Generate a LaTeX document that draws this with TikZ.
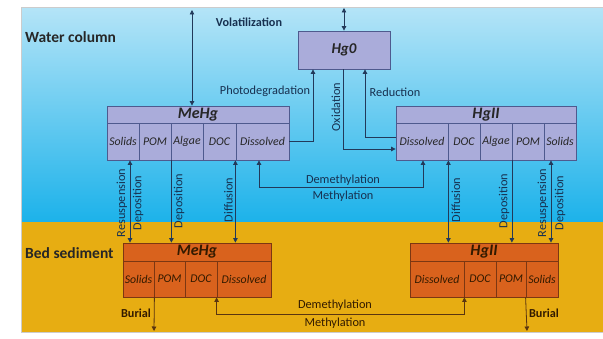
\documentclass[tikz,border=0pt]{standalone}
\usepackage{fontspec}
\setmainfont{Carlito}
\usetikzlibrary{arrows.meta,calc}
\definecolor{wtop}{HTML}{B4E4F7}
\definecolor{wbot}{HTML}{1CB2EA}
\definecolor{sed}{HTML}{E7AD12}
\definecolor{wbox}{HTML}{AAACDA}
\definecolor{wline}{HTML}{4E5A8E}
\definecolor{sbox}{HTML}{D9621D}
\definecolor{sline}{HTML}{7C3712}
\definecolor{wtext}{HTML}{173050}
\definecolor{stext}{HTML}{321A00}
\definecolor{conn}{HTML}{22395A}
\definecolor{sconn}{HTML}{5A3510}
\tikzset{
  >={Triangle[width=4.5pt,length=4.5pt]},
  wcell/.style={draw=wline, fill=wbox, line width=0.8pt, minimum height=37pt, inner sep=0pt,
    font=\fontsize{11.8}{13}\selectfont\itshape, text=black!85},
  whead/.style={wcell, minimum height=17pt, font=\fontsize{16}{18}\selectfont\bfseries\itshape},
  scell/.style={draw=sline, fill=sbox, line width=0.8pt, minimum height=36pt, inner sep=0pt,
    font=\fontsize{11.8}{13}\selectfont\itshape, text=stext},
  shead/.style={scell, minimum height=18pt, font=\fontsize{16}{18}\selectfont\bfseries\itshape},
  wlab/.style={text=wtext, font=\fontsize{12.3}{13}\selectfont, inner sep=0pt},
  slab/.style={text=stext, font=\fontsize{12.3}{13}\selectfont, inner sep=0pt},
  bigl/.style={text=black!85, font=\fontsize{15.5}{17}\selectfont\bfseries, inner sep=0pt, anchor=west},
  wconn/.style={draw=conn, line width=0.8pt},
  sconnl/.style={draw=sconn, line width=0.8pt},
}
\begin{document}
\begin{tikzpicture}[x=1pt,y=-1pt]
\useasboundingbox (0,0) rectangle (603,339);
% background
\fill[top color=wtop, bottom color=wbot] (21,8) rectangle (603,222);
\fill[sed] (21,222) rectangle (603,333);
\draw[black!20, line width=1pt] (603,8) -- (21,8) -- (21,333) -- (603,333);

% region labels
\node[bigl] (wc) at (25,37) {Water column};
\node[bigl] (bs) at (25,253) {Bed sediment};

% Hg0
\node[whead, minimum width=92pt, minimum height=38pt, font=\fontsize{15}{17}\selectfont\bfseries\itshape] (hg0) at (344,50) {Hg0};

% water MeHg
\node[whead, minimum width=182pt] (mwh) at (198,114.5) {MeHg};
\node[wcell, minimum width=32pt] (mwsol) at (123,141.5) {Solids};
\node[wcell, minimum width=32pt] (mwpom) at (155,141.5) {POM};
\node[wcell, minimum width=32pt] (mwalg) at (187,141.5) {Algae};
\node[wcell, minimum width=33pt] (mwdoc) at (219.5,141.5) {DOC};
\node[wcell, minimum width=53pt] (mwdis) at (262.5,141.5) {Dissolved};

% water HgII
\node[whead, minimum width=180pt] (hwh) at (486,114.5) {HgII};
\node[wcell, minimum width=52pt] (hwdis) at (422,141.5) {Dissolved};
\node[wcell, minimum width=32pt] (hwdoc) at (464,141.5) {DOC};
\node[wcell, minimum width=32pt] (hwalg) at (496,141.5) {Algae};
\node[wcell, minimum width=32pt] (hwpom) at (528,141.5) {POM};
\node[wcell, minimum width=32pt] (hwsol) at (560,141.5) {Solids};

% sediment MeHg
\node[shead, minimum width=148pt] (msh) at (197,252) {MeHg};
\node[scell, minimum width=31pt] (mssol) at (138.5,279) {Solids};
\node[scell, minimum width=31pt] (mspom) at (169.5,279) {POM};
\node[scell, minimum width=32pt] (msdoc) at (201,279) {DOC};
\node[scell, minimum width=54pt] (msdis) at (244,279) {Dissolved};

% sediment HgII
\node[shead, minimum width=148pt] (hsh) at (484,252) {HgII};
\node[scell, minimum width=54pt] (hsdis) at (437,279) {Dissolved};
\node[scell, minimum width=32pt] (hsdoc) at (480,279) {DOC};
\node[scell, minimum width=30pt] (hspom) at (511,279) {POM};
\node[scell, minimum width=32pt] (hssol) at (542,279) {Solids};

% free ends and bends
\coordinate (vtop1) at (192,10);
\coordinate (vtop2) at (344,8);
\coordinate (bur1) at (154,331);
\coordinate (bur2) at (527,331);
\coordinate (pd) at (313,141.5);
\coordinate (oxd) at (343,149);
\coordinate (rdx) at (365,137);
\coordinate (mtw) at (0,187);
\coordinate (mts) at (0,314);

% volatilization
\draw[wconn,<->] (vtop1) -- (vtop1 |- mwh.north);
\draw[wconn,<->] (vtop2) -- (hg0.north);
\node[wlab, font=\fontsize{12.2}{13}\selectfont\bfseries] (vol) at (249,22) {Volatilization};

% photodegradation
\draw[wconn,->] (mwdis.east) -- (pd) -- (pd |- hg0.south);
\node[wlab] (lphoto) at (265,91) {Photodegradation};
% oxidation
\draw[wconn,->] (oxd |- hg0.south) -- (oxd) -- (hwdis.west |- oxd);
\node[wlab, rotate=90] (lox) at (336,107) {Oxidation};
% reduction
\draw[wconn,->] (hwdis.west |- rdx) -- (rdx) -- (rdx |- hg0.south);
\node[wlab] (lred) at (395,92) {Reduction};
% water methylation
\draw[wconn,<->] ([xshift=-3.5pt]mwdis.south) -- ([xshift=-3.5pt]mwdis.south |- mtw) -- ([xshift=1pt]hwdis.south |- mtw) -- ([xshift=1pt]hwdis.south);
\node[wlab] (ldem1) at (343,180) {Demethylation};
\node[wlab] (lmet1) at (343,196) {Methylation};

% MeHg exchanges
\draw[wconn,<->] ([xshift=7pt]mwsol.south) -- ([xshift=7pt]mwsol.south |- msh.north);
\node[wlab, rotate=90] (lres1) at (122,203) {Resuspension};
\node[wlab, rotate=90] (ldep1) at (138,203) {Deposition};
\draw[wconn,->] (mwpom.south east) -- (mwpom.south east |- msh.north);
\node[wlab, rotate=90] (ldep2) at (179,201) {Deposition};
\draw[wconn,<->] ([xshift=-1pt]mwdoc.south east) -- ([xshift=-1pt]mwdoc.south east |- msh.north);
\node[wlab, rotate=90] (ldif1) at (228.5,200) {Diffusion};

% HgII exchanges
\draw[wconn,<->] (hwdis.south east) -- (hwdis.south east |- hsh.north);
\node[wlab, rotate=90] (ldif2) at (456,200) {Diffusion};
\draw[wconn,->] ([xshift=-0.5pt]hwalg.south east) -- ([xshift=-0.5pt]hwalg.south east |- hsh.north);
\node[wlab, rotate=90] (ldep3) at (504,201) {Deposition};
\draw[wconn,<->] ([xshift=-9pt]hwsol.south) -- ([xshift=-9pt]hwsol.south |- hsh.north);
\node[wlab, rotate=90] (lres2) at (543,203) {Resuspension};
\node[wlab, rotate=90] (ldep4) at (560,203) {Deposition};

% burial
\draw[sconnl,->] (mssol.south east) -- (bur1);
\node[slab, font=\fontsize{12.2}{13}\selectfont\bfseries] (lbur1) at (136,313) {Burial};
\draw[sconnl,->] (hssol.south west) -- (bur2);
\node[slab, font=\fontsize{12.2}{13}\selectfont\bfseries] (lbur2) at (544,313) {Burial};

% sediment methylation
\draw[sconnl,<->] (msdis.south west) -- (msdis.south west |- mts) -- (hsdis.south east |- mts) -- (hsdis.south east);
\node[slab] (ldem2) at (335,305) {Demethylation};
\node[slab] (lmet2) at (335,323) {Methylation};
\end{tikzpicture}
\end{document}
